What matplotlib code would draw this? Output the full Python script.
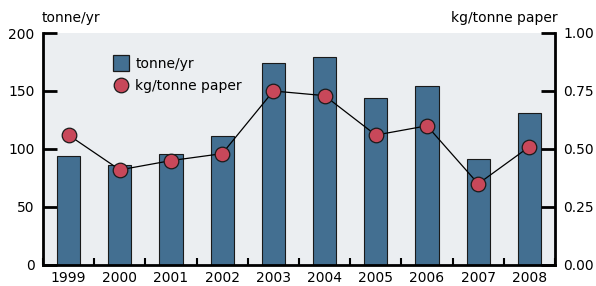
import matplotlib
matplotlib.use("Agg")
import matplotlib.pyplot as plt
from matplotlib.lines import Line2D
import numpy as np

years = ["1999", "2000", "2001", "2002", "2003", "2004", "2005", "2006", "2007", "2008"]
tonne_per_yr = [94, 86, 96, 111, 174, 179, 144, 154, 91, 131]
kg_per_tonne = [0.56, 0.41, 0.45, 0.48, 0.75, 0.73, 0.56, 0.60, 0.35, 0.51]
left_ticks = [0, 50, 100, 150, 200]
right_ticks = [0.0, 0.25, 0.5, 0.75, 1.0]

bar_color = '#436F91'
dot_color = '#C8485A'
edge = '#1a1a1a'

plt.rcParams['font.family'] = ['DejaVu Sans']
fig = plt.figure(figsize=(5.96, 2.86), dpi=100)
ax = fig.add_axes([43/596, 1-265/286, (555-43)/596, (265-33)/286])
ax.set_facecolor('#EBEEF1')
x = np.arange(len(years))
ax.bar(x, tonne_per_yr, width=0.45, color=bar_color, edgecolor=edge, linewidth=0.8, zorder=2)
ax.set_xlim(-0.5, len(years) - 0.5)
ax.set_ylim(0, 200)
ax.set_yticks(left_ticks)
ax.set_yticklabels([str(t) for t in left_ticks])
ax.set_xticks(x)
ax.set_xticklabels(years)
ax.set_xticks(np.arange(len(years) + 1) - 0.5, minor=True)
ax.tick_params(axis='x', which='major', length=0, labelsize=10, pad=4.5)
ax.tick_params(axis='x', which='minor', direction='in', length=5, width=1.5)
ax.tick_params(axis='y', direction='in', length=10, width=2, labelsize=10, pad=6)
for s in ['top', 'right']:
    ax.spines[s].set_visible(False)
ax.spines['left'].set_linewidth(2)
ax.spines['bottom'].set_linewidth(2)

ax2 = ax.twinx()
ax2.plot(x, kg_per_tonne, color='black', linewidth=0.9, marker='o', markersize=10.5,
         markerfacecolor=dot_color, markeredgecolor=edge, markeredgewidth=0.9, zorder=3)
ax2.set_ylim(0, 1.0)
ax2.set_yticks(right_ticks)
ax2.set_yticklabels(['%.2f' % t for t in right_ticks])
ax2.tick_params(axis='y', direction='in', length=10, width=2, labelsize=10, pad=6)
for s in ['top', 'left', 'bottom']:
    ax2.spines[s].set_visible(False)
ax2.spines['right'].set_linewidth(2)

fig.text(42/596, 1-18/286, 'tonne/yr', fontsize=10, ha='left', va='center')
fig.text(558/596, 1-18/286, 'kg/tonne paper', fontsize=10, ha='right', va='center')

handles = [
    Line2D([], [], linestyle='none', marker='s', markersize=11, markerfacecolor=bar_color,
           markeredgecolor=edge, markeredgewidth=0.9),
    Line2D([], [], linestyle='none', marker='o', markersize=10.5, markerfacecolor=dot_color,
           markeredgecolor=edge, markeredgewidth=0.9),
]
ax2.legend(handles, ['tonne/yr', 'kg/tonne paper'], loc='upper left', bbox_to_anchor=(0.115, 0.95),
           frameon=False, fontsize=10, handlelength=1.0, handletextpad=0.5, labelspacing=0.55)

fig.savefig('out.png', dpi=100)
